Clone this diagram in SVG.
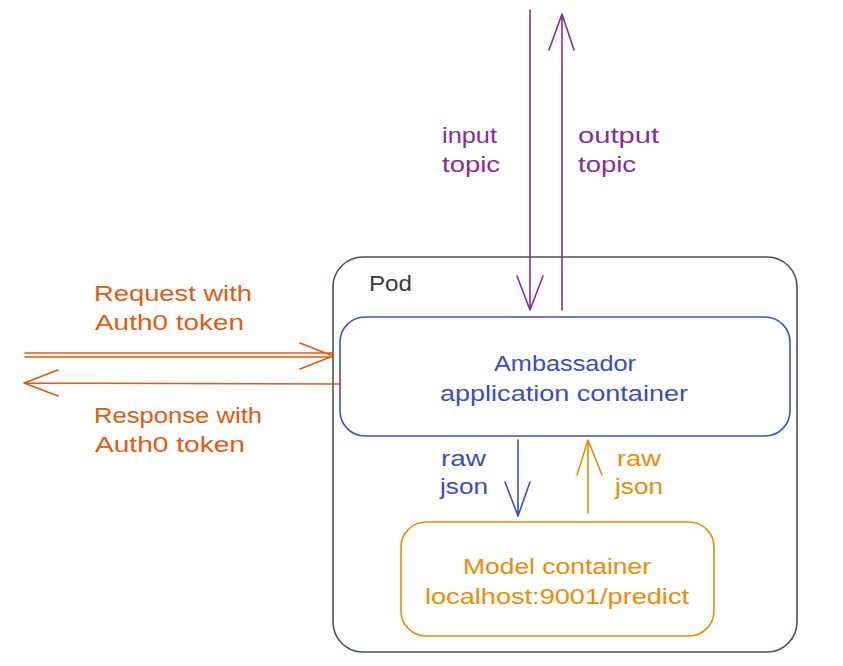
<svg xmlns="http://www.w3.org/2000/svg" width="843" height="666" viewBox="0 0 843 666">
<style>
text{font-family:"Liberation Sans",Arial,sans-serif;font-size:22px}
.pu{fill:#862e9c}.or{fill:#e8590c}.bl{fill:#3b4bc9}.mo{fill:#f08c00}.gr{fill:#343a40}
.l{fill:none;stroke-width:1.6;stroke-linecap:round;stroke-linejoin:round}
</style>
<rect width="843" height="666" fill="#ffffff"/>
<g id="pod">
<rect x="333" y="257" width="464" height="395" rx="30" class="l" stroke="#495057"/>
<text x="369" y="291" class="gr" textLength="43" lengthAdjust="spacingAndGlyphs">Pod</text>
</g>
<g id="ambassador">
<rect x="340" y="317" width="450" height="119" rx="25" fill="#ffffff" class="l" stroke="#3b4fd1"/>
<text x="494" y="371" class="bl" textLength="142" lengthAdjust="spacingAndGlyphs">Ambassador</text>
<text x="440" y="401" class="bl" textLength="248" lengthAdjust="spacingAndGlyphs">application container</text>
</g>
<g id="model">
<rect x="401" y="522" width="313" height="114" rx="25" fill="#ffffff" class="l" stroke="#f08c00"/>
<text x="463" y="574" class="mo" textLength="188" lengthAdjust="spacingAndGlyphs">Model container</text>
<text x="425" y="604" class="mo" textLength="264" lengthAdjust="spacingAndGlyphs">localhost:9001/predict</text>
</g>
<g id="connectors">
<path d="M530 10 L530 310 M517 276 L530 310 L543 276" class="l" stroke="#862e9c"/>
<path d="M562 310 L562 14 M549 50 L562 14 L574 50" class="l" stroke="#862e9c"/>
<path d="M25 353 L333 353 M25 357 L333 357 M300 343 L333 356 L300 369" class="l" stroke="#e8590c"/>
<path d="M340 384 L24 383 M58 370 L24 383 L58 396" class="l" stroke="#e8590c"/>
<path d="M518 440 L518 516 M505 482 L518 516 L530 482" class="l" stroke="#3b4fd1"/>
<path d="M588 513 L588 440 M577 475 L588 440 L602 475" class="l" stroke="#f08c00"/>
</g>
<g id="labels">
<text x="442" y="143" class="pu" textLength="55" lengthAdjust="spacingAndGlyphs">input</text>
<text x="442" y="172" class="pu" textLength="58" lengthAdjust="spacingAndGlyphs">topic</text>
<text x="578" y="143" class="pu" textLength="81" lengthAdjust="spacingAndGlyphs">output</text>
<text x="578" y="172" class="pu" textLength="58" lengthAdjust="spacingAndGlyphs">topic</text>
<text x="94" y="301" class="or" textLength="158" lengthAdjust="spacingAndGlyphs">Request with</text>
<text x="95" y="330" class="or" textLength="149" lengthAdjust="spacingAndGlyphs">Auth0 token</text>
<text x="94" y="423" class="or" textLength="168" lengthAdjust="spacingAndGlyphs">Response with</text>
<text x="95" y="452" class="or" textLength="150" lengthAdjust="spacingAndGlyphs">Auth0 token</text>
<text x="441" y="466" class="bl" textLength="45" lengthAdjust="spacingAndGlyphs">raw</text>
<text x="440" y="494" class="bl" textLength="48" lengthAdjust="spacingAndGlyphs">json</text>
<text x="617" y="466" class="mo" textLength="44" lengthAdjust="spacingAndGlyphs">raw</text>
<text x="615" y="494" class="mo" textLength="48" lengthAdjust="spacingAndGlyphs">json</text>
</g>
</svg>
